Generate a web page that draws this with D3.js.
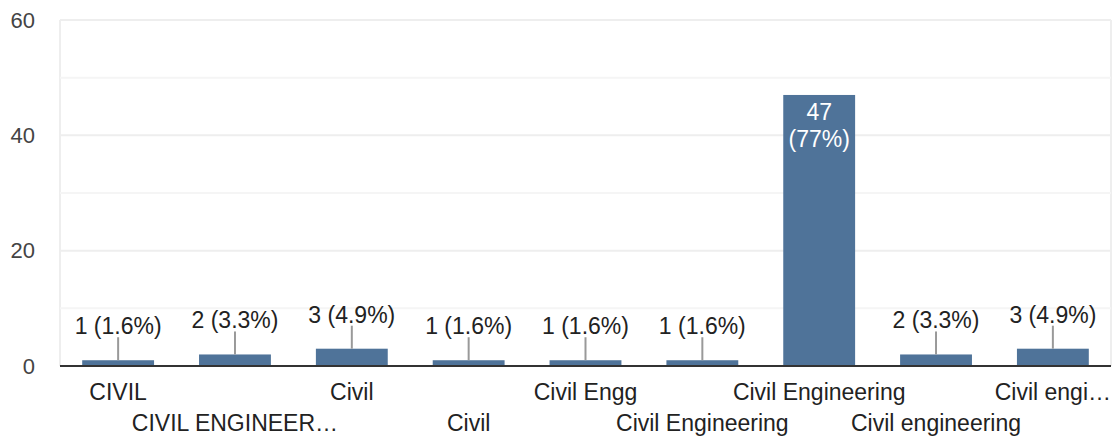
<!DOCTYPE html>
<html>
<head>
<meta charset="utf-8">
<script src="https://cdn.jsdelivr.net/npm/d3@7"></script>
<style>
  body { margin: 0; background: #fff; }
  svg { font-family: Arial, "Liberation Sans", sans-serif; }
</style>
</head>
<body>
<svg id="chart"></svg>
<script>
var categories = ["CIVIL", "CIVIL ENGINEER\u2026", "Civil", "Civil", "Civil Engg",
  "Civil Engineering", "Civil Engineering", "Civil engineering", "Civil engi\u2026"];
var counts = [1, 2, 3, 1, 1, 1, 47, 2, 3];
var percents = ["1.6%", "3.3%", "4.9%", "1.6%", "1.6%", "1.6%", "77%", "3.3%", "4.9%"];
var yTicks = [0, 20, 40, 60];
var yMinor = [10, 30, 50];

var width = 1117, height = 439;
var margin = {top: 20, right: 6, bottom: 73, left: 60};

var svg = d3.select("#chart")
    .attr("width", width)
    .attr("height", height);

var x = d3.scaleBand()
    .domain(d3.range(categories.length))
    .range([margin.left, width - margin.right])
    .paddingInner(0.385)
    .paddingOuter(0.19);

var y = d3.scaleLinear()
    .domain([0, 60])
    .range([height - margin.bottom, margin.top]);

// frame + gridlines
svg.append("line")
    .attr("x1", margin.left).attr("x2", margin.left)
    .attr("y1", y(60)).attr("y2", y(0))
    .attr("stroke", "#eeeeee").attr("stroke-width", 2);
svg.append("line")
    .attr("x1", width - margin.right).attr("x2", width - margin.right)
    .attr("y1", y(60)).attr("y2", y(0))
    .attr("stroke", "#eeeeee").attr("stroke-width", 2);

svg.selectAll(".minor")
    .data(yMinor)
  .enter().append("line")
    .attr("class", "minor")
    .attr("x1", margin.left).attr("x2", width - margin.right)
    .attr("y1", function(d) { return y(d); })
    .attr("y2", function(d) { return y(d); })
    .attr("stroke", "#f5f5f5").attr("stroke-width", 2);

svg.selectAll(".grid")
    .data(yTicks.slice(1))
  .enter().append("line")
    .attr("class", "grid")
    .attr("x1", margin.left).attr("x2", width - margin.right)
    .attr("y1", function(d) { return y(d); })
    .attr("y2", function(d) { return y(d); })
    .attr("stroke", "#eeeeee").attr("stroke-width", 2);

// y axis labels
var yAxis = d3.axisLeft(y).tickValues(yTicks).tickSize(0).tickPadding(25);
svg.append("g")
    .attr("transform", "translate(" + margin.left + ",0)")
    .call(yAxis)
    .call(function(g) { g.select(".domain").remove(); })
    .selectAll("text")
    .attr("font-size", 22)
    .attr("fill", "#444444")
    .attr("font-family", "Arial, 'Liberation Sans', sans-serif");

// bars
svg.selectAll(".bar")
    .data(counts)
  .enter().append("rect")
    .attr("class", "bar")
    .attr("x", function(d, i) { return x(i); })
    .attr("width", x.bandwidth())
    .attr("y", function(d) { return y(d); })
    .attr("height", function(d) { return y(0) - y(d); })
    .attr("fill", "#4f7399");

// baseline
svg.append("line")
    .attr("x1", margin.left).attr("x2", width - margin.right)
    .attr("y1", y(0)).attr("y2", y(0))
    .attr("stroke", "#333333").attr("stroke-width", 2);

// labels
counts.forEach(function(d, i) {
  var cx = x(i) + x.bandwidth() / 2;
  if (d > 20) {
    var t = svg.append("text")
        .attr("x", cx)
        .attr("text-anchor", "middle")
        .attr("font-size", 23)
        .attr("fill", "#ffffff");
    t.append("tspan").attr("x", cx).attr("y", y(d) + 25).text(d);
    t.append("tspan").attr("x", cx).attr("y", y(d) + 52).text("(" + percents[i] + ")");
  } else {
    var top = y(d) - 23;
    svg.append("line")
        .attr("x1", cx).attr("x2", cx)
        .attr("y1", y(d)).attr("y2", top)
        .attr("stroke", "#999999").attr("stroke-width", 2);
    svg.append("text")
        .attr("x", cx)
        .attr("y", top - 3)
        .attr("text-anchor", "middle")
        .attr("font-size", 23)
        .attr("fill", "#222222")
        .text(d + " (" + percents[i] + ")");
  }
});

// x axis labels, staggered in two rows
svg.selectAll(".xlab")
    .data(categories)
  .enter().append("text")
    .attr("class", "xlab")
    .attr("x", function(d, i) { return x(i) + x.bandwidth() / 2; })
    .attr("y", function(d, i) { return i % 2 == 0 ? 400 : 431; })
    .attr("text-anchor", "middle")
    .attr("font-size", 23)
    .attr("fill", "#222222")
    .text(function(d) { return d; });
</script>
</body>
</html>
